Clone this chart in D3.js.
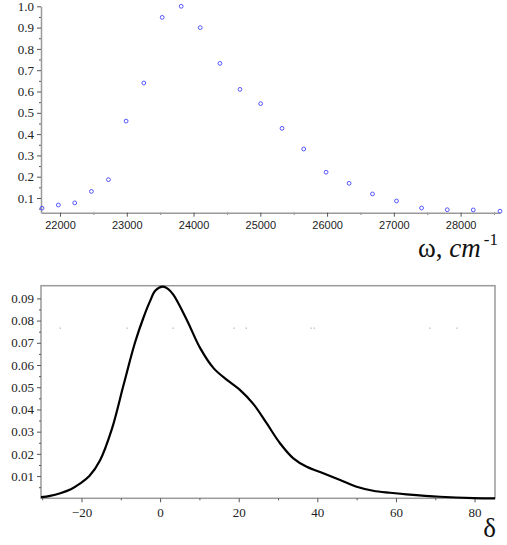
<!DOCTYPE html>
<meta charset="utf-8">
<style>
body{margin:0;background:#fff;}
svg{display:block;}
.domain{stroke:#9a9a9a;stroke-width:1.5px;}
.tick line{stroke:#555;}
.serif text{font-family:"Liberation Serif","Times New Roman",Times,serif;}
</style>
<body>
<script src="https://d3js.org/d3.v7.min.js"></script>
<script>

// top panel: normalised spectrum, omega in cm^-1
var omega=[21730,21975,22220,22470,22725,22990,23255,23530,23815,24100,24395,24695,
	25005,25325,25650,25985,26330,26680,27040,27415,27800,28190,28590];
var intensity=[0.052,0.067,0.077,0.131,0.186,0.461,0.640,0.948,1.0,0.900,0.732,0.610,
	0.543,0.427,0.330,0.221,0.169,0.119,0.086,0.053,0.045,0.044,0.038];
var omegaTicks=[22000,23000,24000,25000,26000,27000,28000];
var intTicks=[0.1,0.2,0.3,0.4,0.5,0.6,0.7,0.8,0.9,1.0];

// bottom panel: distribution over delta
var delta=[-30.3,-28,-25.4,-22.7,-20.3,-18,-15.3,-12.3,-9.3,-6.4,-4.2,-2.5,-1.2,0.6,2.0,3.4,6.8,10.2,13.6,17,20.3,
	23.7,27.1,30.5,33.9,37.3,41.5,45.8,50,54.2,58.5,62.7,71.2,79.7,85.2];
var density=[0.0005,0.0011,0.0023,0.0041,0.0067,0.01,0.017,0.031,0.051,0.07,0.0815,0.089,0.0935,0.0953,0.0943,0.0916,
	0.0803,0.0676,0.0586,0.0533,0.0488,0.0425,0.0338,0.0248,0.018,0.0142,0.0113,0.0082,0.0052,
	0.0034,0.0025,0.0018,0.0007,0.0001,0.0];
var deltaTicks=[-20,0,20,40,60,80];
var densTicks=[0.01,0.02,0.03,0.04,0.05,0.06,0.07,0.08,0.09];
// stray dots left in the plot area
var speckX=[-25.4,-8.4,3.3,18.8,21.9,38.4,39.2,68.6,75.5];
var speckY=0.0766;

var serif="Liberation Serif";
var sans="Liberation Sans";

var svg=d3.select("body").append("svg").attr("width",507).attr("height",545);

function labels(g,fam,size){
	g.attr("font-family",fam).attr("font-size",size);
	g.selectAll(".tick text").attr("font-family",fam).attr("font-size",size).attr("fill","#222");
}

// ---- top
var x1=d3.scaleLinear().domain([21715,28590]).range([41,500]);
var y1=d3.scaleLinear().domain([0.031,1.0]).range([212.7,6.3]);

svg.append("g").attr("transform","translate(0,212.7)")
	.call(d3.axisBottom(x1).tickValues(d3.range(21500,28600,500).filter(v=>v%1000 && v>21715)).tickSize(2).tickFormat(""))
	.select(".domain").remove();
svg.append("g").attr("transform","translate(0,212.7)")
	.call(d3.axisBottom(x1).tickValues(omegaTicks).tickSize(4).tickSizeOuter(0).tickPadding(5).tickFormat(d3.format("d")))
	.call(labels,sans,11);

svg.append("g").attr("transform","translate(41,0)")
	.call(d3.axisLeft(y1).tickValues(d3.range(0.05,1,0.1)).tickSize(2).tickFormat(""))
	.select(".domain").remove();
svg.append("g").attr("class","serif").attr("transform","translate(41,0)")
	.call(d3.axisLeft(y1).tickValues(intTicks).tickSize(4).tickSizeOuter(0).tickPadding(3).tickFormat(d3.format(".1f")))
	.call(labels,serif,13);

svg.append("g").selectAll("circle").data(omega).join("circle")
	.attr("cx",d=>x1(d))
	.attr("cy",(d,i)=>y1(intensity[i]))
	.attr("r",1.9)
	.attr("fill","none")
	.attr("stroke","#5555ff")
	.attr("stroke-width",1);

var t1=svg.append("text").attr("x",498).attr("y",257).attr("text-anchor","end")
	.attr("font-family",serif).attr("font-size",27).attr("fill","#111");
t1.append("tspan").text("ω, ");
t1.append("tspan").attr("font-style","italic").text("cm");
t1.append("tspan").attr("dx",3).attr("dy",-12).attr("font-size",17).text("-1");

// ---- bottom
var x2=d3.scaleLinear().domain([-30.3,85.2]).range([41,495]);
var y2=d3.scaleLinear().domain([0,0.0957]).range([498.3,285.7]);

svg.append("rect").attr("x",41).attr("y",285.7).attr("width",454).attr("height",212.6)
	.attr("fill","none").attr("stroke","#9a9a9a").attr("stroke-width",1.5);

svg.append("g").attr("transform","translate(0,498.3)")
	.call(d3.axisBottom(x2).tickValues([-30,-10,10,30,50,70]).tickSize(2).tickFormat(""))
	.select(".domain").remove();
var bx=svg.append("g").attr("class","serif").attr("transform","translate(0,498.3)")
	.call(d3.axisBottom(x2).tickValues(deltaTicks).tickSize(4).tickSizeOuter(0).tickPadding(5).tickFormat(d=>d<0?"−"+(-d):d))
	.call(labels,serif,13);
bx.select(".domain").remove();

svg.append("g").attr("transform","translate(41,0)")
	.call(d3.axisLeft(y2).tickValues(d3.range(0.005,0.095,0.01)).tickSize(2).tickFormat(""))
	.select(".domain").remove();
var by=svg.append("g").attr("class","serif").attr("transform","translate(41,0)")
	.call(d3.axisLeft(y2).tickValues(densTicks).tickSize(4).tickSizeOuter(0).tickPadding(3).tickFormat(d3.format(".2f")))
	.call(labels,serif,13);
by.select(".domain").remove();

svg.append("g").selectAll("rect").data(speckX).join("rect")
	.attr("x",d=>x2(d)-0.5).attr("y",y2(speckY)-0.5)
	.attr("width",1.2).attr("height",1).attr("fill","#999");

var line=d3.line().x(d=>x2(d[0])).y(d=>y2(d[1])).curve(d3.curveCatmullRom.alpha(0.5));
svg.append("path").datum(delta.map((d,i)=>[d,density[i]]))
	.attr("d",line).attr("fill","none").attr("stroke","#000").attr("stroke-width",2.2);

svg.append("text").attr("x",496).attr("y",537).attr("text-anchor","end")
	.attr("font-family",serif).attr("font-size",27).attr("fill","#111")
	.text("δ");

</script>
</body>
</html>
